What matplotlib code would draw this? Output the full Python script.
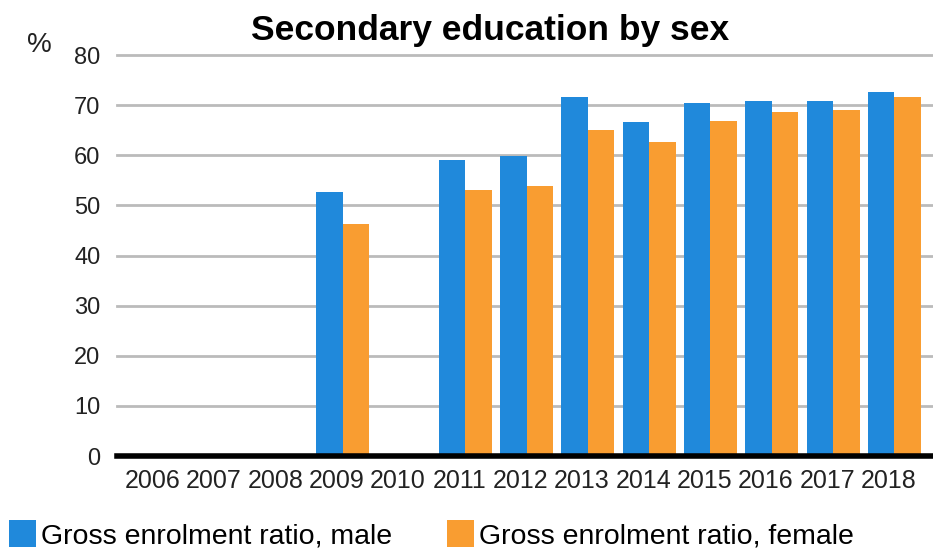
import matplotlib
matplotlib.use("Agg")
import matplotlib.pyplot as plt
import matplotlib.transforms as mtransforms
import numpy as np

plt.rcParams['font.family'] = ['Liberation Sans', 'DejaVu Sans']

# data (nan = no data for that year)
years = ['2006', '2007', '2008', '2009', '2010', '2011', '2012',
         '2013', '2014', '2015', '2016', '2017', '2018']
male = [np.nan, np.nan, np.nan, 52.7, np.nan, 59.0, 59.9,
        71.6, 66.7, 70.5, 70.9, 70.8, 72.7]
female = [np.nan, np.nan, np.nan, 46.3, np.nan, 53.1, 53.8,
          65.1, 62.6, 66.8, 68.6, 69.0, 71.7]
series_names = ['Gross enrolment ratio, male', 'Gross enrolment ratio, female']
yticks = [0, 10, 20, 30, 40, 50, 60, 70, 80]

blue = '#2089DB'
orange = '#F99D31'

fig = plt.figure(figsize=(9.33, 5.5), dpi=100)
ax = fig.add_axes([0.1249, 0.1709, 0.8751, 0.7336])

x = np.arange(len(years))
w = 0.432
b1 = ax.bar(x - w / 2, male, width=w, color=blue, label=series_names[0], zorder=2)
b2 = ax.bar(x + w / 2, female, width=w, color=orange, label=series_names[1], zorder=2)

ax.set_xlim(-0.69, 12.63)
ax.set_ylim(0, 80.5)
ax.set_yticks(yticks)
ax.set_xticks(x)
ax.set_xticklabels(years)
ax.tick_params(axis='both', length=0, colors='#222222')
ax.tick_params(axis='y', pad=11.5, labelsize=17)
ax.tick_params(axis='x', pad=9, labelsize=18)

# year labels sit a little left of the bar groups
shift = mtransforms.ScaledTranslation(-6 / 100, 0, fig.dpi_scale_trans)
for lbl in ax.get_xticklabels():
    lbl.set_transform(lbl.get_transform() + shift)

for s in ax.spines.values():
    s.set_visible(False)
for v in yticks[1:]:
    ax.axhline(v, color='#BBBBBB', lw=2, zorder=1, clip_on=False)
ax.axhline(0, color='black', lw=4, zorder=3, clip_on=False)

fig.text(0.525, 0.945, 'Secondary education by sex', ha='center', va='center',
         fontsize=25.5, fontweight='bold')
fig.text(0.0423, 0.918, '%', ha='center', va='center', fontsize=20, color='#222222')

fig.legend(handles=[b1, b2], loc='lower left', bbox_to_anchor=(-0.0024, -0.019),
           ncol=2, frameon=False, fontsize=20.5, handlelength=0.95, handleheight=1.1,
           handletextpad=0.18, columnspacing=1.9, borderaxespad=0)

fig.savefig('out.png', dpi=100)
